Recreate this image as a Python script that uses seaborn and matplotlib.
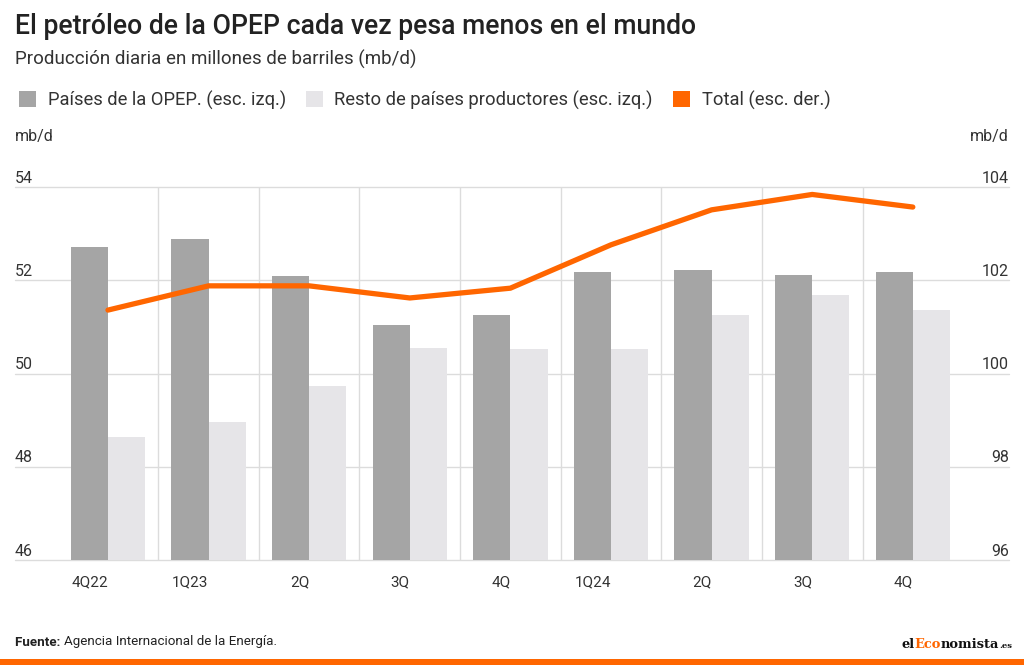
import numpy as np
import pandas as pd
import matplotlib.pyplot as plt
import seaborn as sns
from matplotlib.patches import Patch, Rectangle
from matplotlib.offsetbox import TextArea, HPacker, AnchoredOffsetbox

# =====================================
# Data
# =====================================

quarters = ["4Q22", "1Q23", "2Q23", "3Q23", "4Q23", "1Q24", "2Q24", "3Q24", "4Q24"]
tick_labels = ["4Q22", "1Q23", "2Q", "3Q", "4Q", "1Q24", "2Q", "3Q", "4Q"]

opep = [52.72, 52.88, 52.09, 51.04, 51.25, 52.17, 52.22, 52.12, 52.18]
resto = [48.63, 48.96, 49.73, 50.55, 50.52, 50.52, 51.26, 51.68, 51.36]
total = [101.36, 101.88, 101.88, 101.62, 101.83, 102.76, 103.51, 103.84, 103.57]

left_ticks = [46, 48, 50, 52, 54]
right_ticks = [96, 98, 100, 102, 104]

serie_names = ["Países de la OPEP. (esc. izq.)", "Resto de países productores (esc. izq.)"]
total_name = "Total (esc. der.)"

DARK = "#a5a5a5"
LIGHT = "#e6e5e8"
ORANGE = "#ff6600"
TEXT = "#333333"
GRID = "#dcdcdc"

df = pd.DataFrame({
    "trimestre": quarters * 2,
    "valor": opep + resto,
    "serie": [serie_names[0]] * len(quarters) + [serie_names[1]] * len(quarters),
})

# =====================================
# Figure
# =====================================

sns.set_theme(style="white")
plt.rcParams["font.family"] = ["Roboto", "DejaVu Sans"]

fig = plt.figure(figsize=(10.24, 6.65), dpi=100)
ax = fig.add_axes([15 / 1024, 105 / 665, 994 / 1024, 373 / 665])

sns.barplot(
    data=df,
    x="trimestre",
    y="valor",
    hue="serie",
    order=quarters,
    palette=[DARK, LIGHT],
    width=0.74,
    saturation=1,
    linewidth=0,
    legend=False,
    ax=ax,
)

ax2 = ax.twinx()
sns.lineplot(
    x=np.arange(len(quarters)),
    y=total,
    color=ORANGE,
    linewidth=3.8,
    solid_capstyle="round",
    ax=ax2,
)

# =====================================
# Axes styling
# =====================================

ax.set_ylim(46, 54)
ax2.set_ylim(96, 104)
ax.set_xlim(-0.924, 8.956)

for a in (ax, ax2):
    for s in a.spines.values():
        s.set_visible(False)
    a.set_xlabel("")
    a.set_ylabel("")
    a.set_yticks([])

ax.set_axisbelow(True)
for v in left_ticks:
    ax.axhline(v, color=GRID, linewidth=1, zorder=0, clip_on=False)
for b in np.arange(len(quarters) - 1) + 0.5:
    ax.axvline(b, color=GRID, linewidth=1, zorder=0)

ax.set_xticks(range(len(quarters)))
ax.set_xticklabels(tick_labels, ha="right", fontsize=11, color=TEXT)
ax.tick_params(axis="x", length=0, pad=11)

for v in left_ticks:
    ax.annotate(str(v), xy=(0, v), xycoords=ax.get_yaxis_transform(),
                xytext=(0, 1), textcoords="offset points",
                ha="left", va="bottom", fontsize=11.5, color=TEXT)
for v in right_ticks:
    ax2.annotate(str(v), xy=(1, v), xycoords=ax2.get_yaxis_transform(),
                 xytext=(0, 1), textcoords="offset points",
                 ha="right", va="bottom", fontsize=11.5, color=TEXT)

fig.text(15 / 1024, 1 - 137 / 665, "mb/d", ha="left", va="center", fontsize=11.5, color=TEXT)
fig.text(1009 / 1024, 1 - 137 / 665, "mb/d", ha="right", va="center", fontsize=11.5, color=TEXT)

# =====================================
# Titles and legend
# =====================================

fig.text(15 / 1024, 1 - 26 / 665, "El petróleo de la OPEP cada vez pesa menos en el mundo",
         ha="left", va="center", fontsize=19.2, fontweight="medium", color="#222222")
fig.text(15 / 1024, 1 - 59 / 665, "Producción diaria en millones de barriles (mb/d)",
         ha="left", va="center", fontsize=13.5, color=TEXT)

handles = [
    Patch(facecolor=DARK, edgecolor="none"),
    Patch(facecolor=LIGHT, edgecolor="none"),
    Patch(facecolor=ORANGE, edgecolor="none"),
]
fig.legend(
    handles,
    serie_names + [total_name],
    loc="center left",
    bbox_to_anchor=(10 / 1024, 1 - 100 / 665),
    ncol=3,
    frameon=False,
    fontsize=13.2,
    handlelength=0.93,
    handleheight=0.93,
    handletextpad=0.62,
    columnspacing=1.1,
    borderpad=0,
    labelcolor=TEXT,
)

# =====================================
# Footer
# =====================================

src = HPacker(children=[
    TextArea("Fuente: ", textprops=dict(fontsize=9.6, fontweight="bold", color="#222222")),
    TextArea("Agencia Internacional de la Energía.", textprops=dict(fontsize=9.6, color="#222222")),
], sep=0, align="baseline", pad=0)
fig.add_artist(AnchoredOffsetbox(loc="center left", child=src, frameon=False, pad=0, borderpad=0,
                                 bbox_to_anchor=(15 / 1024, 1 - 642 / 665),
                                 bbox_transform=fig.transFigure))

serif = dict(family=["DejaVu Serif"], fontweight="bold", fontsize=9.4)
logo = HPacker(children=[
    TextArea("el", textprops=dict(color="#111111", **serif)),
    TextArea("Eco", textprops=dict(color=ORANGE, **serif)),
    TextArea("nomista", textprops=dict(color="#111111", **serif)),
    TextArea(".es", textprops=dict(color="#111111", family=["DejaVu Serif"],
                                   fontweight="bold", fontsize=6)),
], sep=0, align="baseline", pad=0)
fig.add_artist(AnchoredOffsetbox(loc="center right", child=logo, frameon=False, pad=0, borderpad=0,
                                 bbox_to_anchor=(1012 / 1024, 1 - 645 / 665),
                                 bbox_transform=fig.transFigure))

fig.add_artist(Rectangle((0, 0), 1, 6 / 665, transform=fig.transFigure,
                         facecolor=ORANGE, edgecolor="none"))

fig.savefig("out.png", dpi=100)
